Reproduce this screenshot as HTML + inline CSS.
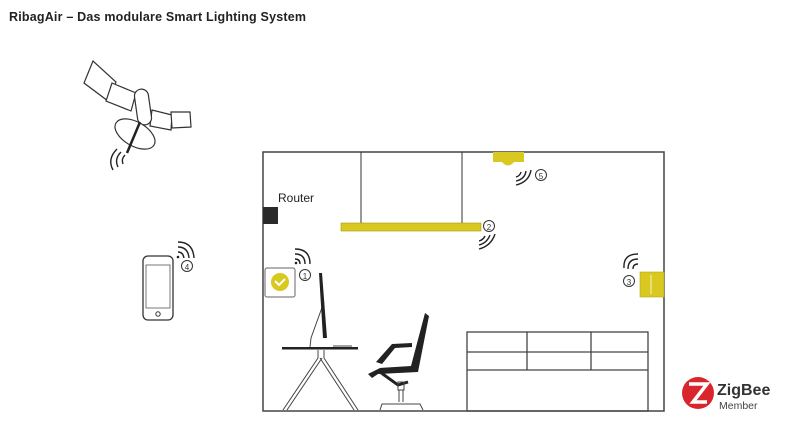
<!DOCTYPE html>
<html><head><meta charset="utf-8"><style>
html,body{margin:0;padding:0;background:#fff;}
svg{display:block;}
text{font-family:"Liberation Sans",sans-serif;}
</style></head><body>
<svg width="786" height="433" viewBox="0 0 786 433" xmlns="http://www.w3.org/2000/svg">
<text x="9" y="21" font-size="12.5" font-weight="bold" fill="#222" textLength="297" lengthAdjust="spacing">RibagAir – Das modulare Smart Lighting System</text>

<!-- satellite -->
<g stroke="#333" stroke-width="1.2" fill="#fff">
<polygon points="93,61 84,83 108,101 116,82"/>
<polygon points="112,83 106,101 131,111 136,93"/>
<polygon points="152,110 150,126 171,130 172,115"/>
<polygon points="171,112 172,128 191,127 190,112"/>
<rect x="136" y="89" width="14" height="36" rx="7" transform="rotate(-8 143 107)"/>
<ellipse cx="135" cy="134" rx="22" ry="12" transform="rotate(30 135 134)"/>
</g>
<line x1="140" y1="122" x2="127" y2="153" stroke="#222" stroke-width="2.5"/>
<g fill="none" stroke="#222" stroke-width="1.4">
<path d="M125,155 q-4,4 -2,9"/><path d="M121,152 q-7,7 -3,15"/><path d="M117,149 q-10,10 -4,21"/>
</g>

<!-- phone -->
<rect x="143" y="256" width="30" height="64" rx="5" fill="none" stroke="#333" stroke-width="1.3"/>
<rect x="146" y="265" width="24" height="43" fill="none" stroke="#555" stroke-width="0.8"/>
<circle cx="158" cy="314" r="2.2" fill="none" stroke="#333"/>
<g fill="none" stroke="#222" stroke-width="1.4">
<path d="M178,252 q5,0 6,6"/><path d="M178,247 q10,0 11,11"/><path d="M178,242 q15,0 16,16"/>
</g>
<circle cx="178" cy="257" r="1.3" fill="#222"/>
<circle cx="187" cy="266" r="5.5" fill="none" stroke="#333"/><text x="187" y="270" font-size="8" text-anchor="middle" fill="#333">4</text>

<!-- room -->
<rect x="263" y="152" width="401" height="259" fill="none" stroke="#444" stroke-width="1.5"/>
<line x1="361" y1="152" x2="361" y2="224" stroke="#333"/>
<line x1="462" y1="152" x2="462" y2="224" stroke="#333"/>
<rect x="341" y="223" width="140" height="8" fill="#d8c81f" stroke="#a99a10" stroke-width="0.6"/>
<circle cx="489" cy="226" r="5.5" fill="none" stroke="#333"/><text x="489" y="230" font-size="8" text-anchor="middle" fill="#333">2</text>
<g fill="none" stroke="#222" stroke-width="1.4">
<path d="M485,236 q-2,4 -6,5"/><path d="M490,235 q-3,8 -11,10"/><path d="M495,234 q-4,12 -16,15"/>
</g>

<!-- ceiling lamp -->
<rect x="493" y="152" width="31" height="10" fill="#d8c81f"/>
<path d="M502,162 q6,7 12,0z" fill="#d8c81f"/>
<g fill="none" stroke="#222" stroke-width="1.4">
<path d="M521,172 q-1,4 -5,5"/><path d="M526,171 q-1,8 -10,10"/><path d="M531,170 q-2,12 -15,15"/>
</g>
<circle cx="541" cy="175" r="5.5" fill="none" stroke="#333"/><text x="541" y="179" font-size="8" text-anchor="middle" fill="#333">5</text>

<!-- router -->
<text x="278" y="202" font-size="12" fill="#222">Router</text>
<rect x="263" y="207" width="15" height="17" fill="#2a2a2a"/>

<!-- switch -->
<rect x="265" y="268" width="30" height="29" rx="2" fill="#fff" stroke="#666" stroke-width="1"/>
<circle cx="280" cy="282" r="9" fill="#d8c81f"/>
<path d="M275,281 l4,4 l6,-6" fill="none" stroke="#fff" stroke-width="2"/>
<g fill="none" stroke="#222" stroke-width="1.4">
<path d="M295,259 q5,0 5,5"/><path d="M295,254 q10,0 10,10"/><path d="M295,249 q15,0 15,15"/>
</g>
<circle cx="296" cy="263" r="1.3" fill="#222"/>
<circle cx="305" cy="275" r="5.5" fill="none" stroke="#333"/><text x="305" y="279" font-size="8" text-anchor="middle" fill="#333">1</text>

<!-- wall unit 3 -->
<rect x="640" y="272" width="24" height="25" fill="#d8c81f" stroke="#b8a81a" stroke-width="0.6"/>
<line x1="651" y1="275" x2="651" y2="294" stroke="#fff" stroke-width="0.8"/>
<g fill="none" stroke="#222" stroke-width="1.4">
<path d="M638,264 q-5,0 -5,5"/><path d="M638,259 q-10,0 -10,10"/><path d="M638,254 q-15,0 -14,14"/>
</g>
<circle cx="629" cy="281" r="5.5" fill="none" stroke="#333"/><text x="629" y="285" font-size="8" text-anchor="middle" fill="#333">3</text>

<!-- desk -->
<rect x="282" y="347" width="76" height="2.5" fill="#222"/>
<g stroke="#444" stroke-width="1" fill="none">
<line x1="318" y1="350" x2="318" y2="358"/><line x1="324" y1="350" x2="324" y2="358"/>
<line x1="318" y1="358" x2="283" y2="410"/><line x1="322" y1="358" x2="287" y2="410"/>
<line x1="320" y1="358" x2="354" y2="410"/><line x1="324" y1="358" x2="358" y2="410"/>
<path d="M324,302 L311,338 L310,347"/>
<line x1="333" y1="346" x2="352" y2="346"/>
</g>
<path d="M319,273 L322,273 L327,338 L323,338 Z" fill="#222"/>

<!-- chair -->
<path d="M425,313 L429,316 L418,372 L378,374 L372,378 L368,374 L380,368 L411,366 Z" fill="#222"/>
<path d="M376,362 L392,344 L412,343 L412,347 L395,348 L382,364 Z" fill="#222"/>
<path d="M380,372 L398,385 L408,382" fill="none" stroke="#222" stroke-width="3"/>
<g stroke="#444" stroke-width="1" fill="none">
<rect x="398" y="382" width="6" height="8"/>
<line x1="399" y1="390" x2="399" y2="402"/><line x1="403" y1="390" x2="403" y2="402"/>
<path d="M380,410 L382,404 L420,404 L423,410"/>
</g>

<!-- sideboard -->
<g stroke="#444" stroke-width="1.3" fill="none">
<rect x="467" y="332" width="181" height="79"/>
<line x1="467" y1="352" x2="648" y2="352"/>
<line x1="467" y1="370" x2="648" y2="370"/>
<line x1="527" y1="332" x2="527" y2="370"/>
<line x1="591" y1="332" x2="591" y2="370"/>
</g>

<!-- zigbee -->
<circle cx="698" cy="393" r="16" fill="#d9262c"/>
<path d="M689,384 h18 l-14,18 h14" fill="none" stroke="#fff" stroke-width="3.5"/>
<text x="717" y="395" font-size="16" font-weight="bold" fill="#333">ZigBee</text>
<text x="719" y="409" font-size="10.5" fill="#444">Member</text>
</svg>
</body></html>
